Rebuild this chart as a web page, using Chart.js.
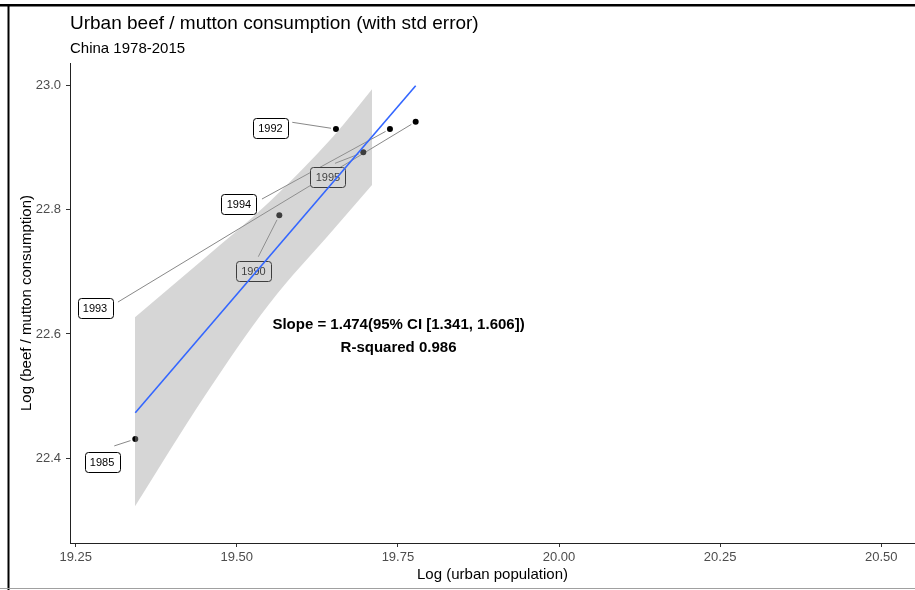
<!DOCTYPE html>
<html>
<head>
<meta charset="utf-8">
<script src="https://cdn.jsdelivr.net/npm/chart.js@4.4.1/dist/chart.umd.min.js"></script>
<style>
  html, body { margin: 0; padding: 0; background: #fff; }
  #wrap { width: 915px; height: 590px; position: relative; }
</style>
</head>
<body>
<div id="wrap"><canvas id="c" width="915" height="590"></canvas></div>
<script>
// 라벨 박스 + 리더 선, 회귀선, 표준오차 리본
const years = [1985, 1990, 1992, 1993, 1994, 1995];
const popX = [19.3425, 19.566, 19.6539, 19.7776, 19.7377, 19.6963];
const consY = [22.431, 22.7909, 22.9297, 22.9414, 22.9297, 22.8922];
const labelX = [19.2909, 19.5259, 19.5523, 19.28, 19.5034, 19.6415];
const labelY = [22.394, 22.7013, 22.9313, 22.6419, 22.809, 22.8524];
const segX = [19.3099, 19.5334, 19.5861, 19.3156, 19.5391, 19.6524];
const segY = [22.42, 22.7243, 22.9405, 22.6514, 22.8171, 22.8745];

const fitX = [19.3425, 19.7776];
const fitY = [22.4733, 22.9993];
const ribX = [19.342, 19.45, 19.55, 19.65, 19.71];
const ribHi = [22.627, 22.722, 22.812, 22.918, 22.994];
const ribLo = [22.323, 22.5, 22.648, 22.768, 22.84];

const xTicks = [19.25, 19.5, 19.75, 20.0, 20.25, 20.5];
const yTicks = [22.4, 22.6, 22.8, 23.0];
const noteLines = ["Slope = 1.474(95% CI [1.341, 1.606])", "R-squared 0.986"];
const noteX = 19.751, noteY = [22.6144, 22.5774];

const FONT = '"Liberation Sans", Arial, sans-serif';
const pts = (xs, ys) => xs.map((v, i) => ({ x: v, y: ys[i] }));

const decor = {
  id: "decor",
  beforeDatasetsDraw(chart) {
    const { ctx, scales: { x, y }, chartArea: a } = chart;
    ctx.save();
    ctx.beginPath(); ctx.rect(a.left, a.top, a.right - a.left, a.bottom - a.top); ctx.clip();
    ctx.font = "11px " + FONT;
    years.forEach((yr, i) => {
      const sx = x.getPixelForValue(segX[i]), sy = y.getPixelForValue(segY[i]);
      const px = x.getPixelForValue(popX[i]), py = y.getPixelForValue(consY[i]);
      const d = Math.hypot(px - sx, py - sy), g = 5;
      ctx.strokeStyle = "#555"; ctx.lineWidth = 0.7;
      ctx.beginPath(); ctx.moveTo(sx, sy); ctx.lineTo(px - (px - sx) * g / d, py - (py - sy) * g / d); ctx.stroke();
      const lx = x.getPixelForValue(labelX[i]), ly = y.getPixelForValue(labelY[i]);
      const t = String(yr), w = Math.round(ctx.measureText(t).width) + 11, h = 20;
      ctx.beginPath(); ctx.roundRect(Math.round(lx - w / 2) + 0.5, Math.round(ly - h / 2) + 0.5, w, h, 3);
      ctx.fillStyle = "#fff"; ctx.fill();
      ctx.strokeStyle = "#000"; ctx.lineWidth = 1; ctx.stroke();
      ctx.fillStyle = "#000"; ctx.textAlign = "center"; ctx.textBaseline = "middle";
      ctx.fillText(t, lx, ly + 1);
    });
    ctx.restore();
  },
  afterDatasetsDraw(chart) {
    const { ctx, scales: { x, y } } = chart;
    ctx.save();
    ctx.font = "bold 15px " + FONT; ctx.fillStyle = "#000";
    ctx.textAlign = "center"; ctx.textBaseline = "middle";
    noteLines.forEach((t, i) => ctx.fillText(t, x.getPixelForValue(noteX), y.getPixelForValue(noteY[i])));
    ctx.restore();
  },
  afterDraw(chart) {
    const { ctx, chartArea: a } = chart;
    ctx.save();
    ctx.fillStyle = "#000"; ctx.textAlign = "left"; ctx.textBaseline = "alphabetic";
    ctx.font = "19px " + FONT; ctx.fillText("Urban beef / mutton consumption (with std error)", a.left, 29);
    ctx.font = "15px " + FONT; ctx.fillText("China 1978-2015", a.left, 52.5);
    // 바깥 테두리
    ctx.fillRect(0, 4, 915, 2.5);
    ctx.fillRect(7.5, 4, 2, 586);
    ctx.fillStyle = "#a0a0a0"; ctx.fillRect(0, 588, 915, 1);
    ctx.restore();
  }
};

const axisTick = { color: "#4d4d4d", font: { family: FONT, size: 13 } };

new Chart(document.getElementById("c"), {
  type: "line",
  data: {
    datasets: [
      { data: pts(popX, consY), showLine: false, pointRadius: 3, pointBackgroundColor: "#000", pointBorderWidth: 0, order: 3 },
      { data: pts(ribX, ribLo), borderColor: "rgba(0,0,0,0)", pointRadius: 0, fill: false, cubicInterpolationMode: "monotone", order: 2 },
      { data: pts(ribX, ribHi), borderColor: "rgba(0,0,0,0)", pointRadius: 0, fill: "-1", cubicInterpolationMode: "monotone", backgroundColor: "rgba(153,153,153,0.4)", order: 1 },
      { data: pts(fitX, fitY), borderColor: "#3366FF", borderWidth: 1.6, pointRadius: 0, fill: false, order: 0 }
    ]
  },
  options: {
    responsive: false, animation: false, events: [],
    layout: { autoPadding: false, padding: { top: 63, left: 0, right: 0, bottom: 0 } },
    plugins: { legend: { display: false }, tooltip: { enabled: false } },
    scales: {
      x: {
        type: "linear", min: 19.2412, max: 20.5524,
        afterBuildTicks: (s) => { s.ticks = xTicks.map((v) => ({ value: v })); },
        afterFit: (s) => { s.height = 47; s.paddingLeft = 0; s.paddingRight = 0; },
        ticks: { ...axisTick, padding: 3, maxRotation: 0, autoSkip: false, callback: (v) => v.toFixed(2) },
        grid: { drawOnChartArea: false, tickLength: 4, color: "#333" },
        border: { color: "#222", width: 1 },
        title: { display: true, text: "Log (urban population)", color: "#000", font: { family: FONT, size: 15 }, padding: { top: 0, bottom: 6 } }
      },
      y: {
        type: "linear", min: 22.2638, max: 23.0359,
        afterBuildTicks: (s) => { s.ticks = yTicks.map((v) => ({ value: v })); },
        afterFit: (s) => { s.width = 70; s.paddingTop = 0; s.paddingBottom = 0; },
        ticks: { ...axisTick, padding: 5, callback: (v) => v.toFixed(1) },
        grid: { drawOnChartArea: false, tickLength: 4, color: "#333" },
        border: { color: "#222", width: 1 },
        title: { display: true, text: "Log (beef / mutton consumption)", color: "#000", font: { family: FONT, size: 15 }, padding: { top: 18, bottom: 0 } }
      }
    }
  },
  plugins: [decor]
});
</script>
</body>
</html>
